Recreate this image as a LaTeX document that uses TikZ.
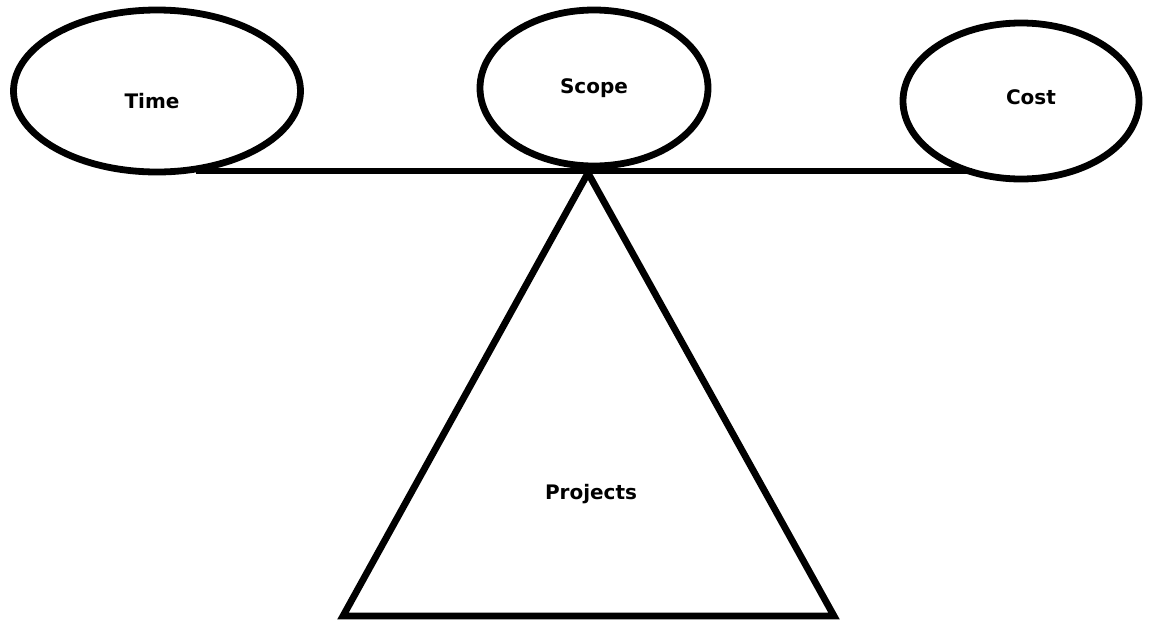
\documentclass[tikz,border=0pt]{standalone}
\usepackage{fontspec}
\setmainfont{DejaVu Sans}
\usetikzlibrary{shapes.geometric, positioning}

\tikzset{
  oval/.style={draw=black, ellipse, line width=3.4pt, inner sep=0pt},
  lbl/.style={font=\bfseries\fontsize{10}{12}\selectfont, inner sep=0pt},
  beam/.style={draw=black, line width=3.4pt}
}

\begin{document}
\begin{tikzpicture}[x=0.5pt, y=-0.5pt]
\useasboundingbox (0,0) rectangle (1152,622);
\color{black}

% the three ovals on the beam
\node[oval, minimum width=143.5pt, minimum height=81pt] (time) at (157,91) {};
\node[oval, minimum width=114pt, minimum height=78pt] (scope) at (594,88) {};
\node[oval, minimum width=118pt, minimum height=78pt] (cost) at (1021,101) {};

\node[lbl] (timetxt) at (152,101) {Time};
\node[lbl] (scopetxt) at (594,88) {Scope};
\node[lbl] (costtxt) at (1031,97) {Cost};

% beam
\coordinate (beamleft) at (196,171);
\coordinate (beamright) at (972,171);
\draw[beam] (beamleft) -- (beamright);

% the triangle below
\coordinate (apex) at (588,173);
\coordinate (baseleft) at (343,616);
\coordinate (baseright) at (834,616);
\draw[beam, line join=miter] (apex) -- (baseleft) -- (baseright) -- cycle;

\node[lbl] (projtxt) at (591,494) {Projects};
\end{tikzpicture}
\end{document}
